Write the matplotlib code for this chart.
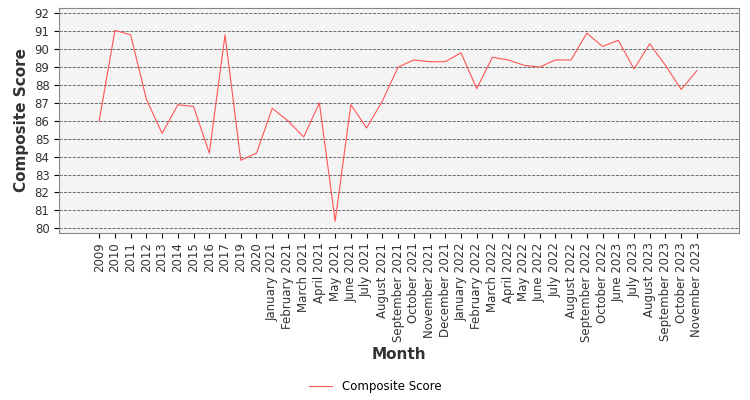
import matplotlib
matplotlib.use("Agg")
import matplotlib.pyplot as plt

months = ["2009","2010","2011","2012","2013","2014","2015","2016","2017","2019","2020",
"January 2021","February 2021","March 2021","April 2021","May 2021","June 2021","July 2021",
"August 2021","September 2021","October 2021","November 2021","December 2021",
"January 2022","February 2022","March 2022","April 2022","May 2022","June 2022","July 2022",
"August 2022","September 2022","October 2022","June 2023","July 2023","August 2023",
"September 2023","October 2023","November 2023"]
scores = [86.0,91.05,90.8,87.2,85.3,86.9,86.8,84.2,90.8,83.8,84.2,
86.7,86.0,85.1,87.0,80.4,86.9,85.6,87.1,89.0,89.4,89.3,89.3,
89.8,87.8,89.55,89.4,89.1,89.0,89.4,89.4,90.9,90.15,90.5,88.9,90.3,89.1,87.75,88.8]

fig = plt.figure(figsize=(7.5,4), dpi=100)
ax = fig.add_axes([0.079, 0.418, 0.906, 0.562])
ax.set_facecolor("#f4f4f4")
x = range(len(months))
ax.plot(x, scores, color="#ff5555", lw=0.8, label="Composite Score")
ax.set_xticks(list(x))
ax.set_xticklabels(months, rotation=90, fontsize=8.5, color='#333333')
ax.set_xlim(-2.54, 40.66)
ax.set_ylim(79.75, 92.3)
ax.set_yticks(range(80,93))
ax.tick_params(axis='y', labelsize=8.5, labelcolor='#333333')
ax.grid(axis='y', linestyle='--', color='#555555', lw=0.6)
ax.set_axisbelow(True)
for s in ax.spines.values():
    s.set_color('#888888')
ax.set_ylabel("Composite Score", fontsize=11, color='#333333', fontweight='bold')
ax.set_xlabel("Month", fontsize=11, color='#333333', fontweight='bold')
fig.legend(loc='lower center', bbox_to_anchor=(0.5, -0.01), frameon=False, fontsize=8.5)
fig.savefig("out.png")
